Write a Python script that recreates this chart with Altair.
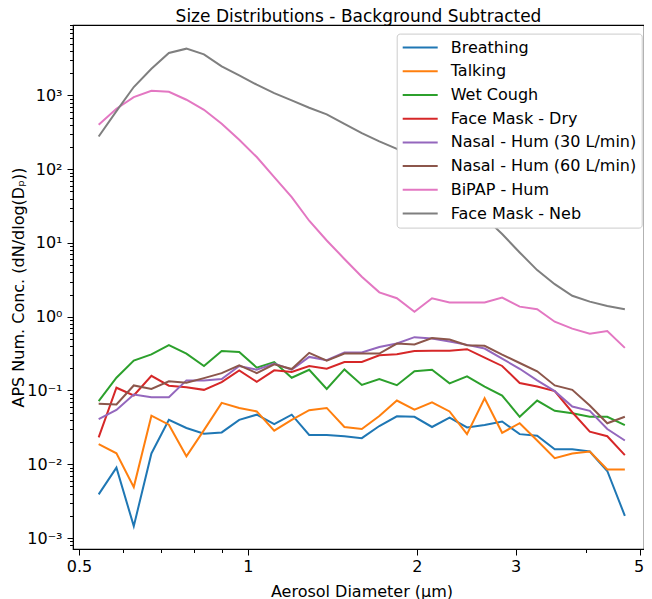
import altair as alt
import pandas as pd

diam = [0.542, 0.583, 0.626, 0.673, 0.723, 0.777, 0.835, 0.898, 0.965, 1.037,
        1.114, 1.197, 1.286, 1.382, 1.486, 1.596, 1.715, 1.843, 1.981, 2.129,
        2.288, 2.458, 2.642, 2.839, 3.051, 3.278, 3.523, 3.786, 4.068, 4.371, 4.698]

breathing = [0.0039, 0.009, 0.00145, 0.014, 0.040, 0.031, 0.026, 0.027, 0.040, 0.047,
             0.035, 0.047, 0.025, 0.025, 0.024, 0.0226, 0.033, 0.0446, 0.044, 0.032,
             0.043, 0.0316, 0.034, 0.038, 0.0256, 0.0243, 0.016, 0.016, 0.0149, 0.0081, 0.0020]
talking = [0.0187, 0.0141, 0.0049, 0.0456, 0.0344, 0.0128, 0.029, 0.068, 0.058, 0.052,
           0.0285, 0.040, 0.054, 0.058, 0.032, 0.030, 0.045, 0.073, 0.055, 0.069,
           0.052, 0.0256, 0.0786, 0.0267, 0.036, 0.021, 0.0121, 0.014, 0.0149, 0.0085, 0.0085]
wet_cough = [0.0716, 0.149, 0.254, 0.309, 0.411, 0.316, 0.215, 0.343, 0.333, 0.204,
             0.243, 0.149, 0.191, 0.105, 0.193, 0.119, 0.143, 0.118, 0.182, 0.191,
             0.125, 0.155, 0.113, 0.0855, 0.044, 0.073, 0.053, 0.049, 0.044, 0.044, 0.034]
face_mask_dry = [0.0231, 0.109, 0.0855, 0.158, 0.116, 0.111, 0.102, 0.130, 0.1875, 0.131,
                 0.1875, 0.178, 0.215, 0.197, 0.243, 0.243, 0.300, 0.309, 0.343, 0.346,
                 0.346, 0.363, 0.279, 0.215, 0.126, 0.113, 0.098, 0.0507, 0.0276, 0.024, 0.0133]
nasal_30 = [0.041, 0.0544, 0.088, 0.081, 0.081, 0.137, 0.137, 0.143, 0.215, 0.191,
            0.231, 0.191, 0.285, 0.257, 0.327, 0.327, 0.389, 0.433, 0.528, 0.507,
            0.461, 0.415, 0.370, 0.270, 0.197, 0.137, 0.098, 0.0605, 0.053, 0.030, 0.021]
nasal_60 = [0.066, 0.0645, 0.117, 0.105, 0.133, 0.127, 0.147, 0.172, 0.219, 0.172,
            0.226, 0.195, 0.324, 0.254, 0.316, 0.316, 0.316, 0.433, 0.420, 0.513,
            0.491, 0.411, 0.403, 0.306, 0.236, 0.182, 0.117, 0.102, 0.0624, 0.0359, 0.044]
bipap = [400, 659, 949, 1157, 1121, 873, 638, 412, 250, 146,
         78, 41.7, 20, 10.8, 6.07, 3.49, 2.14, 1.78, 1.17, 1.78,
         1.56, 1.56, 1.56, 1.82, 1.37, 1.26, 0.855, 0.69, 0.59, 0.64, 0.378]
face_mask_neb = [277, 612, 1298, 2300, 3758, 4300, 3600, 2478, 1870, 1395,
                 1075, 855, 680, 552, 412, 308, 238, 188, 134, 94,
                 63, 37.4, 22.2, 13.2, 7.43, 4.28, 2.76, 1.92, 1.6, 1.40, 1.26]

series_names = ["Breathing", "Talking", "Wet Cough", "Face Mask - Dry",
                "Nasal - Hum (30 L/min)", "Nasal - Hum (60 L/min)",
                "BiPAP - Hum", "Face Mask - Neb"]
series_values = [breathing, talking, wet_cough, face_mask_dry,
                 nasal_30, nasal_60, bipap, face_mask_neb]
colors = ["#1f77b4", "#ff7f0e", "#2ca02c", "#d62728",
          "#9467bd", "#8c564b", "#e377c2", "#7f7f7f"]

x_ticks = [0.5, 0.6, 0.7, 0.8, 0.9, 1, 2, 3, 4, 5]
y_ticks = [m * 10.0 ** e for e in range(-4, 4) for m in range(1, 10)
           if 7.1e-4 <= m * 10.0 ** e <= 9000]

rows = []
for k, (name, vals) in enumerate(zip(series_names, series_values)):
    for d, v in zip(diam, vals):
        rows.append({"series": name, "d": d, "v": v, "order": k})
df = pd.DataFrame(rows)

FONT = "DejaVu Sans"
ytest = "abs(log(datum.value)/LN10 - round(log(datum.value)/LN10)) < 0.001"
ylabel = ("(" + ytest + ") ? ['10\u207b\u00b3','10\u207b\u00b2','10\u207b\u00b9','10\u2070','10\u00b9','10\u00b2','10\u00b3']"
          "[round(log(datum.value)/LN10)+3] : ''")
xtest = "indexof([0.5,1,2,3,5], datum.value) >= 0"

chart = alt.Chart(df).mark_line(strokeWidth=2, clip=True).encode(
    x=alt.X("d:Q",
            scale=alt.Scale(type="log", domain=[0.4878, 5.082], nice=False),
            axis=alt.Axis(values=x_ticks,
                          labelExpr="(" + xtest + ") ? format(datum.value, '') : ''",
                          tickSize={"condition": {"test": xtest, "value": 6}, "value": 3.5},
                          labelOffset={"condition": {"test": "datum.value == 5", "value": -1.5}, "value": 0},
                          title="Aerosol Diameter (\u03bcm)",
                          grid=False, labelFlush=False, labelOverlap=False,
                          labelFontSize=16, titleFontSize=16,
                          labelFont=FONT, titleFont=FONT, titleFontWeight="normal",
                          labelPadding=3, titleX=288.5, titleY=47,
                          titleBaseline="alphabetic",
                          labelColor="black", titleColor="black",
                          tickColor="black", domainColor="black")),
    y=alt.Y("v:Q",
            scale=alt.Scale(type="log", domain=[7.1e-4, 9000], nice=False),
            axis=alt.Axis(values=y_ticks, labelExpr=ylabel,
                          tickSize={"condition": {"test": ytest, "value": 6}, "value": 3.5},
                          title="APS Num. Conc. (dN/dlog(D\u209a))",
                          grid=False, labelFlush=False, labelOverlap=False,
                          labelFontSize=16, titleFontSize=16,
                          labelFont=FONT, titleFont=FONT, titleFontWeight="normal",
                          labelPadding=5, titleX=-49.5, titleY=262,
                          titleBaseline="alphabetic",
                          labelColor="black", titleColor="black",
                          tickColor="black", domainColor="black")),
    color=alt.Color("series:N",
                    scale=alt.Scale(domain=series_names, range=colors),
                    legend=alt.Legend(orient="none", legendX=323.7, legendY=8.6,
                                      title=None, symbolType="stroke",
                                      symbolSize=1225, symbolStrokeWidth=2,
                                      labelFontSize=16, labelFont=FONT,
                                      labelColor="black", labelLimit=400,
                                      padding=5, strokeColor="#cccccc",
                                      fillColor="white", cornerRadius=3,
                                      labelOffset=12, clipHeight=18,
                                      rowPadding=5.7)),
    order=alt.Order("order:Q"),
).properties(
    width=571, height=524,
    title=alt.TitleParams("Size Distributions - Background Subtracted",
                          font=FONT, fontSize=17, fontWeight="normal",
                          color="black", anchor="middle", frame="group",
                          baseline="alphabetic", offset=5, dy=27),
    autosize=alt.AutoSizeParams(type="none"),
    padding={"left": 65, "top": 17, "right": 0, "bottom": 50},
).configure_view(stroke="black", strokeWidth=1.2)

chart.save("out.html", embed_options={"renderer": "svg", "actions": False})
